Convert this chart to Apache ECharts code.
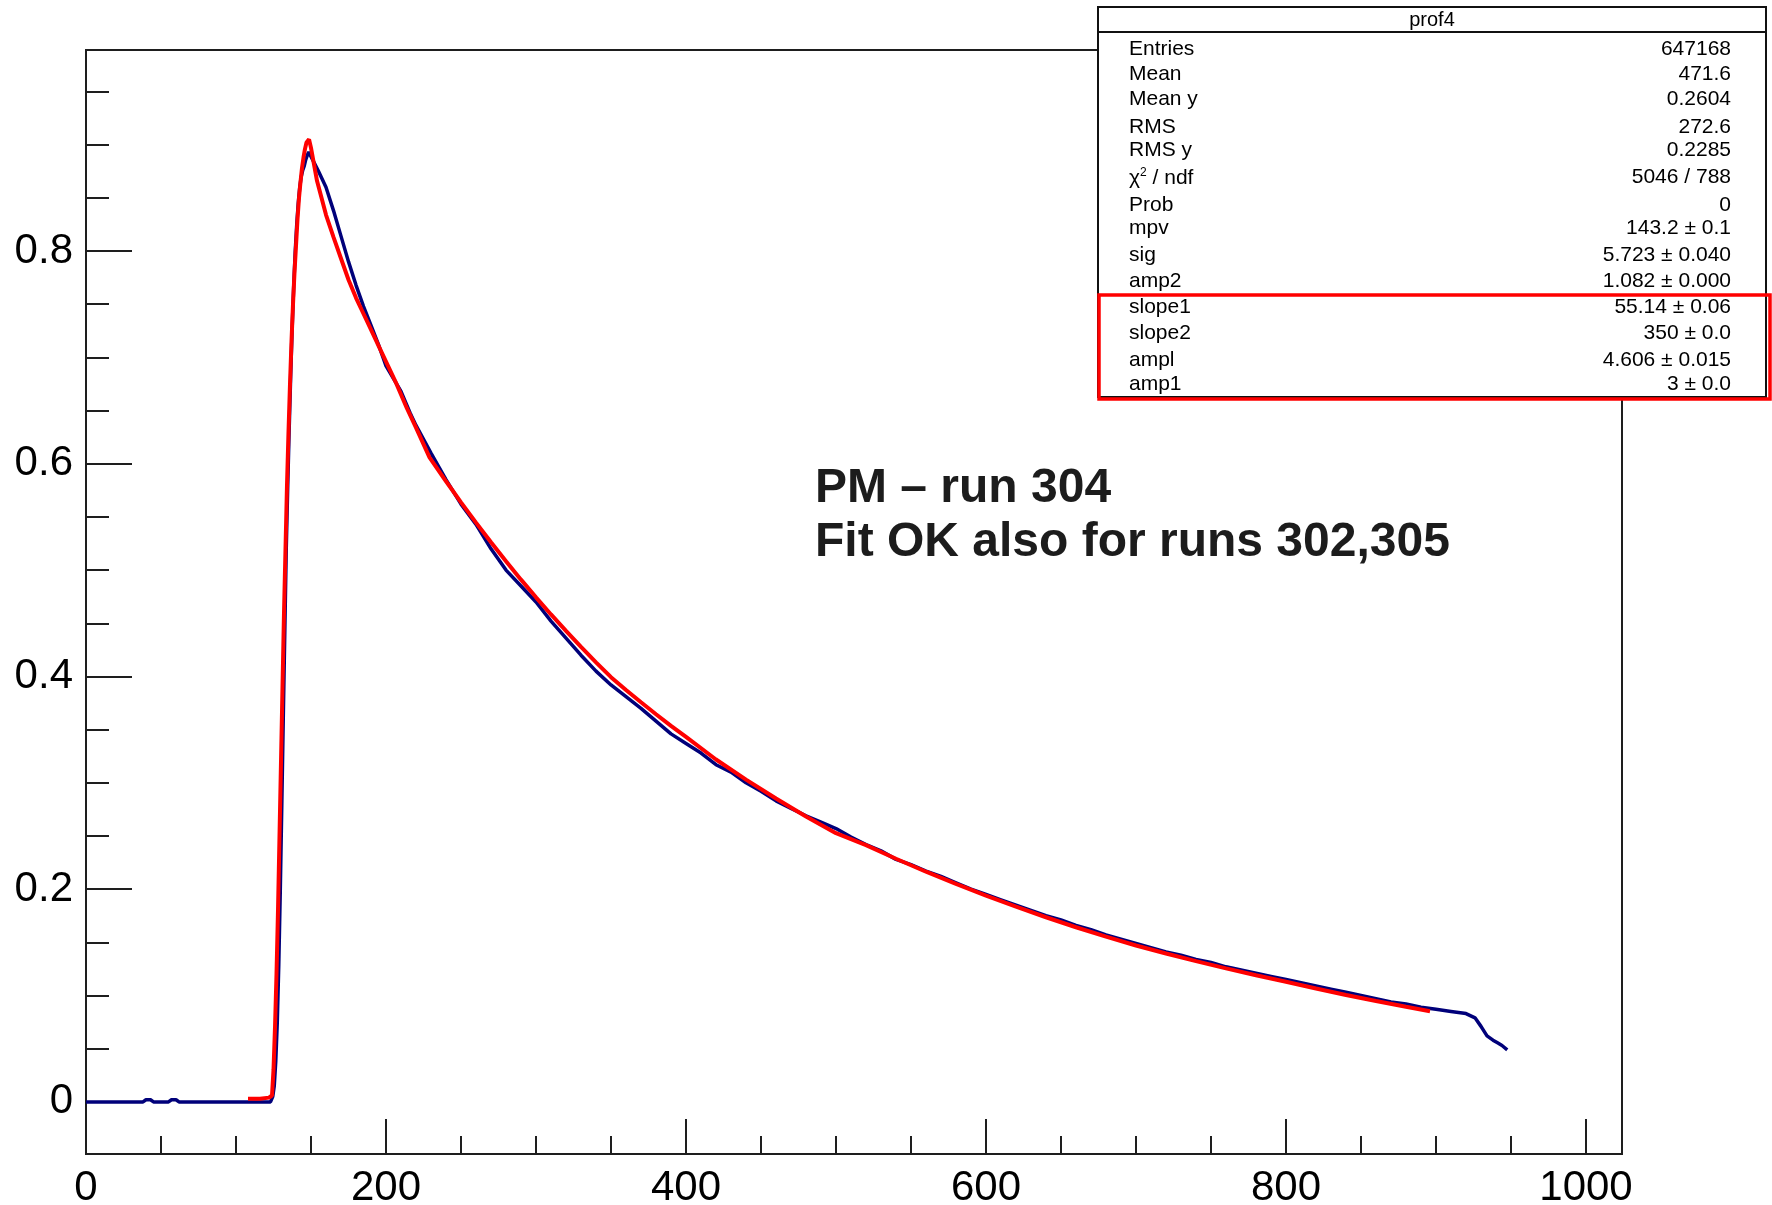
<!DOCTYPE html>
<html>
<head>
<meta charset="utf-8">
<script src="https://cdn.jsdelivr.net/npm/echarts@6/dist/echarts.min.js"></script>
<style>
  html, body { margin: 0; padding: 0; background: #ffffff; }
  #chart { width: 1772px; height: 1205px; }
</style>
</head>
<body>
<div id="chart"></div>
<script>
// Axis ticks
const xMajorTicks = [0, 200, 400, 600, 800, 1000];
const xMinorTicks = [50, 100, 150, 250, 300, 350, 450, 500, 550, 650, 700, 750, 850, 900, 950];
const yMajorTicks = [0, 0.2, 0.4, 0.6, 0.8];
const yMinorTicks = [0.05, 0.1, 0.15, 0.25, 0.3, 0.35, 0.45, 0.5, 0.55, 0.65, 0.7, 0.75, 0.85, 0.9, 0.95];

// Profile prof4 (mean amplitude per time bin)
const profileX = [0, 38, 40, 43, 45, 55, 57, 60, 62, 123,
  124.5, 125.5, 126.5, 127.5, 128.5, 129.5, 130.5, 131.5, 132.5, 133.5,
  134.5, 135.5, 136.5, 137.5, 138.5, 139.5, 140.5, 141.5, 142.5, 143.5,
  144.5, 145.5, 146.5, 147.5, 148.5, 149.5,
  155, 160, 165, 170, 175, 180, 185, 190, 195, 200, 205, 210, 216, 220,
  230, 240, 250, 260, 270, 280, 290, 300, 310, 320, 330, 340, 350, 360,
  370, 380, 390, 400, 410, 420, 430, 440, 450, 460, 470, 480, 490, 500,
  510, 520, 530, 540, 550, 560, 570, 580, 590, 600, 610, 620, 630, 640,
  650, 660, 670, 680, 690, 700, 710, 720, 730, 740, 750, 760, 770, 780,
  790, 800, 810, 820, 830, 840, 850, 860, 870, 880, 890, 900, 910, 920,
  926, 930, 934, 938, 941, 944, 947.5];
const profileY = [0, 0, 0.002, 0.002, 0, 0, 0.002, 0.002, 0, 0,
  0.005, 0.015, 0.038, 0.074, 0.128, 0.197, 0.277, 0.36, 0.44, 0.52,
  0.58, 0.635, 0.685, 0.73, 0.768, 0.80, 0.825, 0.845, 0.86, 0.87,
  0.876, 0.88, 0.886, 0.89, 0.893, 0.894,
  0.875, 0.86, 0.838, 0.814, 0.79, 0.768, 0.748, 0.73, 0.712, 0.692, 0.68, 0.668, 0.648, 0.636,
  0.61, 0.585, 0.562, 0.543, 0.52, 0.50, 0.485, 0.47, 0.452, 0.436, 0.42, 0.405, 0.392, 0.381,
  0.37, 0.358, 0.346, 0.337, 0.328, 0.317, 0.31, 0.30, 0.292, 0.283, 0.276, 0.269, 0.263, 0.257,
  0.249, 0.242, 0.236, 0.228, 0.223, 0.217, 0.212, 0.206, 0.20, 0.195, 0.19, 0.185, 0.18, 0.175,
  0.171, 0.166, 0.162, 0.157, 0.153, 0.149, 0.145, 0.141, 0.138, 0.134, 0.131, 0.127, 0.124, 0.121,
  0.118, 0.115, 0.112, 0.109, 0.106, 0.103, 0.10, 0.097, 0.094, 0.092, 0.089, 0.087, 0.085, 0.083,
  0.079, 0.071, 0.062, 0.058, 0.0555, 0.053, 0.049];

// Fitted pulse shape
const fitX = [108, 116, 122, 124, 125, 126, 127, 128, 129, 130, 131, 132, 133, 134, 135, 136, 137,
  138, 139, 140, 141, 142, 143, 144, 145, 146, 147, 148.7, 150, 154, 160, 165, 170, 175, 180, 185,
  190, 196, 200, 207, 214, 220, 229, 240, 250, 260, 270, 280, 290, 300, 310, 320, 330, 340, 350,
  360, 370, 380, 390, 400, 420, 440, 460, 480, 500, 520, 540, 560, 580, 600, 620, 640, 660, 680,
  700, 720, 740, 760, 780, 800, 820, 840, 860, 880, 896];
const fitY = [0.003, 0.003, 0.004, 0.006, 0.03, 0.07, 0.12, 0.18, 0.25, 0.32, 0.39, 0.46, 0.52, 0.58,
  0.63, 0.675, 0.715, 0.75, 0.78, 0.805, 0.83, 0.85, 0.865, 0.878, 0.888, 0.896, 0.902, 0.905, 0.897,
  0.866, 0.834, 0.813, 0.793, 0.773, 0.756, 0.741, 0.726, 0.708, 0.696, 0.675, 0.652, 0.634, 0.606,
  0.5835, 0.5637, 0.5446, 0.5261, 0.5083, 0.491, 0.4744, 0.4583, 0.4428, 0.4278, 0.4133, 0.3993,
  0.3872, 0.3757, 0.3645, 0.3536, 0.3431, 0.3219, 0.303, 0.2852, 0.2684, 0.2526, 0.2414, 0.2286,
  0.2164, 0.2049, 0.194, 0.1835, 0.1736, 0.1642, 0.1554, 0.147, 0.1395, 0.1323, 0.1255, 0.1191,
  0.113, 0.1066, 0.1005, 0.0949, 0.0895, 0.0853];

// Statistics box
const statsTitle = 'prof4';
const statLabels = ['Entries', 'Mean', 'Mean y', 'RMS', 'RMS y', 'χ{sup|2} / ndf', 'Prob',
  'mpv', 'sig', 'amp2', 'slope1', 'slope2', 'ampl', 'amp1'];
const statValues = ['647168', '471.6', '0.2604', '272.6', '0.2285', '5046 / 788', '0',
  '143.2 ± 0.1', '5.723 ± 0.040', '1.082 ± 0.000', '55.14 ± 0.06', '350 ± 0.0',
  '4.606 ± 0.015', '3 ± 0.0'];

// Annotation
const noteLines = ['PM – run 304', 'Fit OK also for runs 302,305'];

const zip = (xs, ys) => xs.map((x, i) => [x, ys[i]]);

const FONT = '"Liberation Sans", Arial, Helvetica, sans-serif';
const GRID = { left: 86, right: 150, top: 50, bottom: 51, containLabel: false, outerBoundsMode: 'none' };
const X_RANGE = { min: 0, max: 1024 };
const Y_RANGE = { min: -0.049, max: 0.989 };
const AXIS_COLOR = '#1e1e1e';

// Stats box geometry
const BOX = { x: 1098, y: 7, w: 668, h: 390, header: 25 };
const LABEL_X = 1129, VALUE_X = 1731;
const ROW_Y = [51, 76, 101, 129, 152, 179, 207, 230, 257, 283, 309, 335, 362, 386];
const HILITE = { x: 1099, y: 295, w: 671, h: 104 };

const statText = [];
statLabels.forEach((lab, i) => {
  statText.push({
    type: 'text', z: 102, left: LABEL_X, top: ROW_Y[i] - 12,
    style: {
      text: lab, font: '21px ' + FONT, fill: '#000',
      rich: { sup: { fontSize: 12, verticalAlign: 'top', padding: [0, 0, 10, 0], fill: '#000', fontFamily: FONT } }
    }
  });
  statText.push({
    type: 'text', z: 102, right: 1772 - VALUE_X, top: ROW_Y[i] - 12,
    style: { text: statValues[i], font: '21px ' + FONT, fill: '#000', textAlign: 'right' }
  });
});

const chart = echarts.init(document.getElementById('chart'), null, { renderer: 'canvas' });

const commonAxis = {
  axisLine: { show: false, onZero: false },
  splitLine: { show: false }
};
const plainNumber = v => String(v);

chart.setOption({
  animation: false,
  backgroundColor: '#ffffff',
  grid: [
    Object.assign({ show: true, borderColor: AXIS_COLOR, borderWidth: 2, backgroundColor: 'transparent' }, GRID),
    Object.assign({ show: false }, GRID)
  ],
  xAxis: [
    Object.assign({}, commonAxis, {
      type: 'value', gridIndex: 0, position: 'bottom', min: X_RANGE.min, max: X_RANGE.max,
      axisTick: { show: true, inside: true, length: 35, customValues: xMajorTicks,
        lineStyle: { color: AXIS_COLOR, width: 2 } },
      axisLabel: { show: true, customValues: xMajorTicks, margin: 13, color: '#000',
        fontSize: 42, fontFamily: FONT, formatter: plainNumber }
    }),
    Object.assign({}, commonAxis, {
      type: 'value', gridIndex: 1, position: 'bottom', min: X_RANGE.min, max: X_RANGE.max,
      axisTick: { show: true, inside: true, length: 18, customValues: xMinorTicks,
        lineStyle: { color: AXIS_COLOR, width: 2 } },
      axisLabel: { show: false }
    })
  ],
  yAxis: [
    Object.assign({}, commonAxis, {
      type: 'value', gridIndex: 0, position: 'left', min: Y_RANGE.min, max: Y_RANGE.max,
      axisTick: { show: true, inside: true, length: 46, customValues: yMajorTicks,
        lineStyle: { color: AXIS_COLOR, width: 2 } },
      axisLabel: { show: true, customValues: yMajorTicks, margin: 13, color: '#000',
        fontSize: 42, fontFamily: FONT, formatter: plainNumber }
    }),
    Object.assign({}, commonAxis, {
      type: 'value', gridIndex: 1, position: 'left', min: Y_RANGE.min, max: Y_RANGE.max,
      axisTick: { show: true, inside: true, length: 23, customValues: yMinorTicks,
        lineStyle: { color: AXIS_COLOR, width: 2 } },
      axisLabel: { show: false }
    })
  ],
  series: [
    {
      name: 'prof4', type: 'line', xAxisIndex: 0, yAxisIndex: 0,
      data: zip(profileX, profileY), showSymbol: false, smooth: false, z: 3,
      lineStyle: { color: '#00007a', width: 3.5 }
    },
    {
      name: 'fit', type: 'line', xAxisIndex: 0, yAxisIndex: 0,
      data: zip(fitX, fitY), showSymbol: false, smooth: false, z: 4,
      lineStyle: { color: '#ff0000', width: 4 }
    }
  ],
  graphic: [
    { type: 'rect', z: 100, shape: { x: BOX.x, y: BOX.y, width: BOX.w, height: BOX.h },
      style: { fill: '#ffffff', stroke: '#111', lineWidth: 2 } },
    { type: 'line', z: 101, shape: { x1: BOX.x, y1: BOX.y + BOX.header, x2: BOX.x + BOX.w, y2: BOX.y + BOX.header },
      style: { stroke: '#111', lineWidth: 2 } },
    { type: 'text', z: 102, x: BOX.x + BOX.w / 2, y: BOX.y + BOX.header / 2 + 1,
      style: { text: statsTitle, font: '20px ' + FONT, fill: '#000', textAlign: 'center', textVerticalAlign: 'middle' } },
    ...statText,
    { type: 'rect', z: 103, shape: { x: HILITE.x, y: HILITE.y, width: HILITE.w, height: HILITE.h },
      style: { fill: 'none', stroke: '#ff0000', lineWidth: 3.5 } },
    { type: 'text', z: 50, left: 815, top: 465,
      style: { text: noteLines[0], font: 'bold 48px ' + FONT, fill: '#1c1c1c' } },
    { type: 'text', z: 50, left: 815, top: 519,
      style: { text: noteLines[1], font: 'bold 48px ' + FONT, fill: '#1c1c1c' } }
  ]
});
</script>
</body>
</html>
